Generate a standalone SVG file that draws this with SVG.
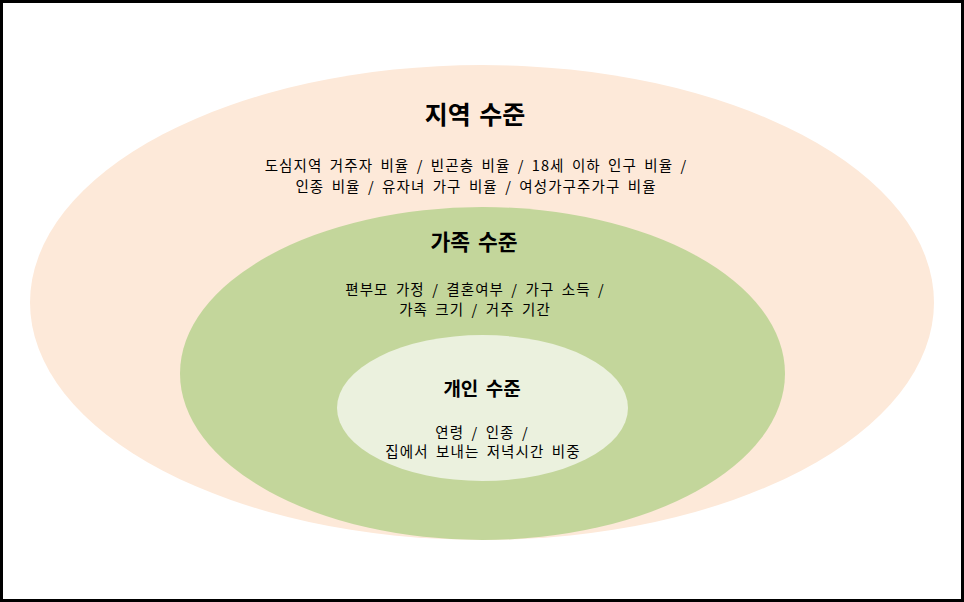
<svg xmlns="http://www.w3.org/2000/svg" width="964" height="602" viewBox="0 0 964 602">
<style>
text{font-family:"Malgun Gothic","Noto Sans CJK KR",sans-serif;fill:#000;text-anchor:middle}
.t1{font-size:25px;font-weight:bold;word-spacing:3px}
.t2{font-size:21.5px;font-weight:bold;word-spacing:3px}
.t3{font-size:19px;font-weight:bold;word-spacing:3px}
.b{font-size:14.5px;word-spacing:3px;letter-spacing:1.1px}
</style>
<rect x="0" y="0" width="964" height="602" fill="#fff"/>
<rect x="1.5" y="1.5" width="961" height="599" fill="none" stroke="#000" stroke-width="3"/>
<g id="region">
<ellipse cx="482" cy="302.5" rx="452" ry="237.5" fill="#FDE9D9"/>
<text class="t1" x="475" y="124">지역 수준</text>
<text class="b" x="476" y="171">도심지역 거주자 비율 / 빈곤층 비율 / 18세 이하 인구 비율 /</text>
<text class="b" x="476" y="192">인종 비율 / 유자녀 가구 비율 / 여성가구주가구 비율</text>
</g>
<g id="family">
<ellipse cx="482.5" cy="373.5" rx="302.5" ry="166.5" fill="#C3D69B"/>
<text class="t2" x="474" y="250">가족 수준</text>
<text class="b" x="475" y="295">편부모 가정 / 결혼여부 / 가구 소득 /</text>
<text class="b" x="475" y="315">가족 크기 / 거주 기간</text>
</g>
<g id="individual">
<ellipse cx="482.5" cy="408" rx="145.5" ry="73" fill="#EBF1DE"/>
<text class="t3" x="482" y="396">개인 수준</text>
<text class="b" x="482" y="438">연령 / 인종 /</text>
<text class="b" x="483" y="457">집에서 보내는 저녁시간 비중</text>
</g>
<g id="connectors"/>
</svg>
